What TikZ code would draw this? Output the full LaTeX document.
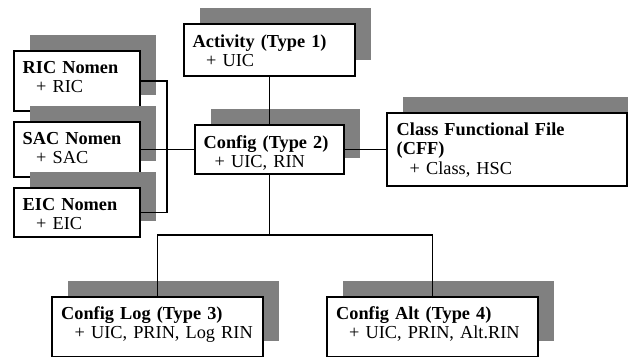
\documentclass[tikz,border=0pt]{standalone}
\usepackage{fontspec}
\setmainfont{Liberation Serif}
\usetikzlibrary{shadows,calc}
\definecolor{shgray}{HTML}{808080}
\begin{document}
\begin{tikzpicture}[x=1pt,y=1pt,
  box/.style={rectangle, draw=black, line width=1.8pt, fill=white,
    inner sep=0pt, outer sep=0pt, anchor=north west,
    drop shadow={shadow xshift=16pt, shadow yshift=16pt, fill=shgray, opacity=1}},
  lbl/.style={anchor=base west, inner sep=0pt, text width=225pt, align=left,
    font=\fontsize{18.3pt}{19.3pt}\selectfont},
  link/.style={draw=black, line width=1.6pt, line join=miter}]
\useasboundingbox (0,0) rectangle (628,356);
\clip (0,0) rectangle (628,356);

% entity boxes, drawn top to bottom so each shadow overlaps the box above
\node[box, minimum width=171pt, minimum height=52pt] (act) at (184,332) {};
\node[lbl] (actT) at ($(act.north west)+(8.5,-23.5)$)
  {\textbf{Activity (Type 1)}\\\hspace*{13.5pt}+ UIC};

\node[box, minimum width=126pt, minimum height=60pt] (ric) at (14,305) {};
\node[lbl] (ricT) at ($(ric.north west)+(8.5,-22.5)$)
  {\textbf{RIC Nomen}\\\hspace*{13.5pt}+ RIC};

\node[box, minimum width=126pt, minimum height=55pt] (sac) at (14,234) {};
\node[lbl] (sacT) at ($(sac.north west)+(8.5,-22.5)$)
  {\textbf{SAC Nomen}\\\hspace*{13.5pt}+ SAC};

\node[box, minimum width=126pt, minimum height=49pt] (eic) at (14,168) {};
\node[lbl] (eicT) at ($(eic.north west)+(8.5,-22.5)$)
  {\textbf{EIC Nomen}\\\hspace*{13.5pt}+ EIC};

\node[box, minimum width=149pt, minimum height=49pt] (cfg) at (195,231) {};
\node[lbl] (cfgT) at ($(cfg.north west)+(8.5,-23.5)$)
  {\textbf{Config (Type 2)}\\\hspace*{11pt}+ UIC, RIN};

\node[box, minimum width=240pt, minimum height=73pt] (cff) at (387,243) {};
\node[lbl] (cffT) at ($(cff.north west)+(9.5,-22.5)$)
  {\textbf{Class Functional File}\\\textbf{(CFF)}\\\hspace*{13pt}+ Class, HSC};

\node[box, minimum width=211pt, minimum height=60pt] (log) at (52,59) {};
\node[lbl] (logT) at ($(log.north west)+(9,-22.5)$)
  {\textbf{Config Log (Type 3)}\\\hspace*{13.5pt}+ UIC, PRIN, Log RIN};

\node[box, minimum width=211pt, minimum height=60pt] (alt) at (327,59) {};
\node[lbl] (altT) at ($(alt.north west)+(9,-22.5)$)
  {\textbf{Config Alt (Type 4)}\\\hspace*{13pt}+ UIC, PRIN, Alt.RIN};

% connectors
\coordinate (brk) at (167,0);
\coordinate (bus) at (269.5,121);
\draw[link] (ric.east) -- (ric.east -| brk) -- (eic.east -| brk) -- (eic.east);
\draw[link] (sac.east) -- (cfg.west);
\draw[link] (act.south) -- (cfg.north);
\draw[link] (cfg.east) -- (cff.west);
\draw[link] (cfg.south) -- (bus);
\draw[link] (log.north) |- (bus) -| (alt.north);
\end{tikzpicture}
\end{document}
